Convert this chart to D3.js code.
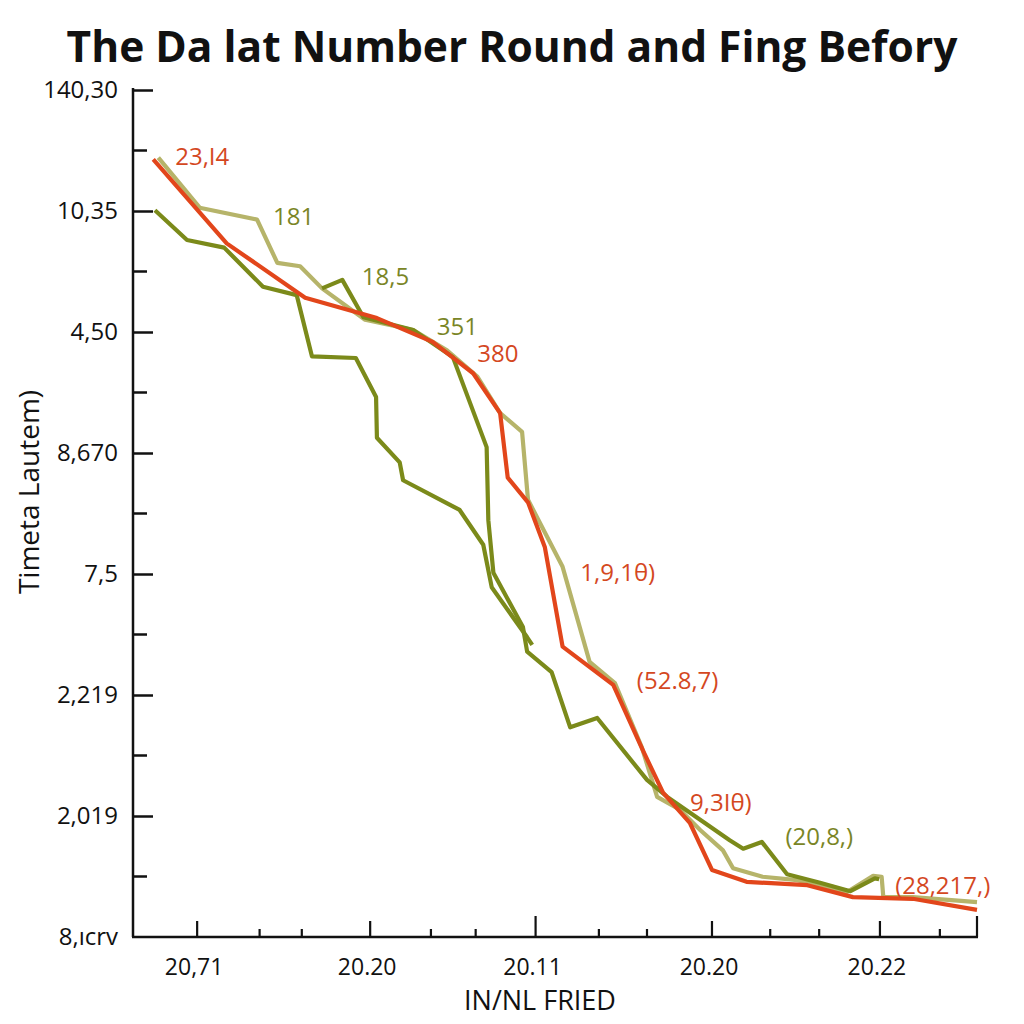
<!DOCTYPE html>
<html>
<head>
<meta charset="utf-8">
<script src="https://cdn.jsdelivr.net/npm/d3@7"></script>
<style>
  html, body { margin: 0; padding: 0; background: #ffffff; }
  svg { display: block; }
</style>
</head>
<body>
<svg id="chart" width="1024" height="1024"></svg>
<script>
// ---------------- DATA ----------------
const chartTitle = "The Da lat Number Round and Fing Befory";
const yAxisTitle = "Timeta Lautem)";
const xAxisTitle = "IN/NL FRIED";

// y-axis category tick labels, bottom to top
const yTickLabels = ["8,\u0131crv", "2,019", "2,219", "7,5", "8,670", "4,50", "10,35", "140,30"];

// x-axis tick labels and their positions (data units 0..100)
const xTickLabels = ["20,71", "20.20", "20.11", "20.20", "20.22"];
const xTickValues = [7.6, 28.1, 47.7, 68.6, 88.5];
const xMinorTickValues = [15.0, 20.0, 35.3, 40.6, 55.2, 60.9, 75.5, 81.3, 95.6];

// series: [x, y] in data units (x 0..100, y 0..100)
const seriesKhaki = [
  [3.0, 91.8], [7.9, 85.9], [14.7, 84.5], [17.1, 79.4], [19.8, 79.0], [22.4, 76.4],
  [27.5, 72.7], [33.2, 71.5], [37.2, 69.1], [40.8, 66.0], [43.5, 61.7], [46.1, 59.5],
  [46.8, 51.5], [50.9, 43.6], [54.1, 32.4], [57.1, 29.9], [60.3, 22.3], [62.1, 16.5],
  [64.8, 15.0], [67.2, 12.6], [69.9, 10.2], [71.1, 8.1], [74.6, 7.1], [78.7, 6.7],
  [84.6, 5.3], [87.7, 7.2], [88.7, 7.1], [88.9, 4.7], [92.4, 4.7], [100, 4.1]
];
const seriesOliveA = [
  [2.6, 85.6], [6.4, 82.1], [10.8, 81.2], [15.4, 76.6], [19.4, 75.6], [21.2, 68.4],
  [26.4, 68.2], [28.8, 63.6], [28.9, 58.8], [31.6, 55.9], [32.0, 53.8], [38.7, 50.3],
  [41.5, 46.2], [42.5, 41.2], [46.7, 35.3], [47.3, 34.4]
];
const seriesOliveB = [
  [22.4, 76.4], [24.8, 77.4], [27.3, 73.0], [33.2, 71.5], [37.9, 68.3], [41.9, 57.7],
  [42.1, 49.1], [42.7, 42.9], [46.2, 36.5], [46.7, 33.6], [49.6, 31.2], [51.8, 24.7],
  [55.0, 25.8], [60.9, 18.5], [63.3, 16.5], [67.2, 13.8], [70.7, 11.4], [72.3, 10.4],
  [74.5, 11.2], [77.5, 7.4], [81.4, 6.4], [85.0, 5.4], [87.9, 6.9], [88.4, 6.8]
];
const seriesRed = [
  [2.4, 91.6], [11.1, 81.7], [20.4, 75.3], [28.9, 72.9], [35.5, 70.1], [40.3, 66.4],
  [43.5, 61.7], [44.4, 54.1], [46.8, 51.2], [48.8, 45.9], [50.9, 34.2], [56.9, 29.7],
  [60.4, 22.0], [62.8, 17.0], [66.0, 13.4], [68.6, 7.9], [72.7, 6.5], [79.9, 6.1],
  [85.3, 4.7], [92.4, 4.5], [100, 3.2]
];

// annotation labels: text, x, y (data units), series key
const annoTexts  = ["23,I4", "181", "18,5", "351", "380", "1,9,1\u03b8)", "(52.8,7)", "9,3I\u03b8)", "(20,8,)", "(28,217,)"];
const annoX      = [5.0, 16.6, 27.1, 36.0, 40.8, 53.0, 59.7, 66.0, 77.3, 90.3];
const annoY      = [92.1, 85.0, 77.9, 72.0, 68.9, 43.0, 30.3, 16.0, 11.9, 6.2];
const annoSeries = ["red", "olive", "olive", "olive", "red", "red", "red", "red", "olive", "red"];

// ---------------- STYLE ----------------
const colors = { red: "#e2461b", olive: "#7b8a1a", khaki: "#b6b46a" };
const labelColors = { red: "#d4481f", olive: "#7a8526" };
const FONT = "'Open Sans', 'Noto Sans', sans-serif";

const svg = d3.select("#chart");
const mLeft = 133, mRight = 977, mTop = 90, mBottom = 937;

const x = d3.scaleLinear().domain([0, 100]).range([mLeft, mRight]);
const y = d3.scaleLinear().domain([0, 100]).range([mBottom, 88]);
const yCat = d3.scalePoint().domain(yTickLabels).range([mBottom, mTop]);

// Title
const title = svg.append("text")
  .attr("x", 512).attr("y", 62)
  .attr("text-anchor", "middle")
  .attr("font-family", FONT)
  .attr("font-weight", 700)
  .attr("font-size", 38)
  .attr("fill", "#111")
  .text(chartTitle);
{
  const w = title.node().getComputedTextLength();
  const target = 891;
  if (w > 0) title.attr("font-size", 38 * target / w);
}

// Y axis (major ticks + labels)
const yAxis = d3.axisLeft(yCat).tickSizeInner(-20).tickSizeOuter(0).tickPadding(15);
const gy = svg.append("g").attr("transform", `translate(${mLeft},0)`).call(yAxis);
gy.select(".domain").attr("stroke", "#111").attr("stroke-width", 2.5).attr("d", `M0,${88}V${mBottom}`);
gy.selectAll(".tick line").attr("stroke", "#111").attr("stroke-width", 2.5);
gy.selectAll(".tick text").attr("font-family", FONT).attr("font-size", 24).attr("fill", "#111");
gy.selectAll(".tick").filter(d => d === yTickLabels[0]).select("line").remove();

// Y minor ticks (midpoints between categories)
const yMinor = d3.pairs(yTickLabels).map(([a, b]) => (yCat(a) + yCat(b)) / 2);
svg.append("g").selectAll("line").data(yMinor).join("line")
  .attr("x1", mLeft).attr("x2", mLeft + 14)
  .attr("y1", d => d).attr("y2", d => d)
  .attr("stroke", "#111").attr("stroke-width", 2.5);

// X axis baseline
svg.append("line").attr("x1", mLeft - 1).attr("x2", mRight + 1)
  .attr("y1", mBottom).attr("y2", mBottom)
  .attr("stroke", "#111").attr("stroke-width", 2.5);

// X major ticks
svg.append("g").selectAll("line").data(xTickValues).join("line")
  .attr("x1", d => x(d)).attr("x2", d => x(d))
  .attr("y1", mBottom).attr("y2", (d, i) => mBottom - (i === 2 ? 21 : 16))
  .attr("stroke", "#111").attr("stroke-width", 2.2);
// right end tick
svg.append("line").attr("x1", mRight).attr("x2", mRight)
  .attr("y1", mBottom).attr("y2", mBottom - 21)
  .attr("stroke", "#111").attr("stroke-width", 2.2);
// X minor ticks
svg.append("g").selectAll("line").data(xMinorTickValues).join("line")
  .attr("x1", d => x(d)).attr("x2", d => x(d))
  .attr("y1", mBottom).attr("y2", mBottom - 8)
  .attr("stroke", "#111").attr("stroke-width", 2.2);
// X labels
svg.append("g").selectAll("text").data(xTickValues).join("text")
  .attr("x", d => x(d) - 3).attr("y", 975)
  .attr("text-anchor", "middle")
  .attr("font-family", FONT).attr("font-size", 23).attr("fill", "#111")
  .text((d, i) => xTickLabels[i]);

// Axis titles
svg.append("text")
  .attr("x", 540).attr("y", 1010)
  .attr("text-anchor", "middle")
  .attr("font-family", FONT).attr("font-size", 27).attr("fill", "#111")
  .text(xAxisTitle);
svg.append("text")
  .attr("transform", "translate(39,492) rotate(-90)")
  .attr("text-anchor", "middle")
  .attr("font-family", FONT).attr("font-size", 28).attr("fill", "#111")
  .text(yAxisTitle);

// Lines
const line = d3.line().x(d => x(d[0])).y(d => y(d[1]));
const seriesList = [
  { data: seriesKhaki, color: colors.khaki },
  { data: seriesOliveA, color: colors.olive },
  { data: seriesOliveB, color: colors.olive },
  { data: seriesRed, color: colors.red }
];
svg.append("g").selectAll("path").data(seriesList).join("path")
  .attr("d", d => line(d.data))
  .attr("fill", "none")
  .attr("stroke", d => d.color)
  .attr("stroke-width", 4.2)
  .attr("stroke-linejoin", "round")
  .attr("stroke-linecap", "butt");

// Annotations
svg.append("g").selectAll("text").data(annoTexts).join("text")
  .attr("x", (d, i) => x(annoX[i]))
  .attr("y", (d, i) => y(annoY[i]))
  .attr("dominant-baseline", "central")
  .attr("font-family", FONT).attr("font-size", 24)
  .attr("fill", (d, i) => labelColors[annoSeries[i]])
  .text(d => d);
</script>
</body>
</html>
